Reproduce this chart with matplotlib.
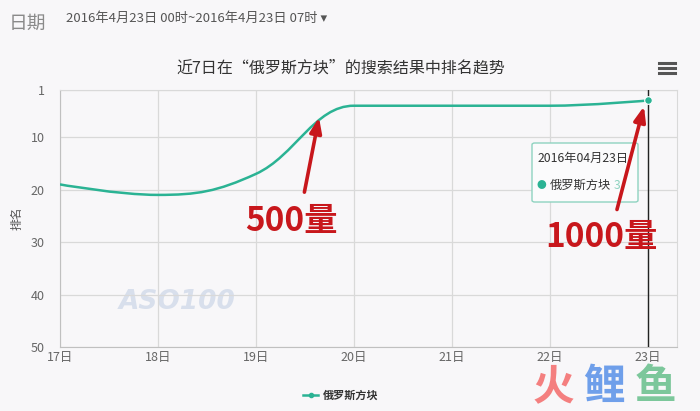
import matplotlib
matplotlib.use("Agg")
import matplotlib.pyplot as plt
from matplotlib.path import Path
from matplotlib.patches import PathPatch, FancyBboxPatch
from matplotlib.lines import Line2D

plt.rcParams['font.family'] = ['Noto Sans CJK SC', 'DejaVu Sans']

days = [17, 18, 19, 20, 21, 22, 23]
day_labels = ['17日', '18日', '19日', '20日', '21日', '22日', '23日']
ranks = [19, 21, 17, 4, 4, 4, 3]
y_ticks = [1, 10, 20, 30, 40, 50]
series_name = '俄罗斯方块'

LINE = '#2bb394'
RED = '#c8171c'
BG = '#f8f7f9'
GRID = '#d9d9d9'


def spline_path(xs, ys, smoothing=1.5):
    # highcharts-like spline control points
    denom = smoothing + 1
    n = len(xs)
    left = [None] * n
    right = [None] * n
    for i in range(n):
        x, y = xs[i], ys[i]
        if i == 0 or i == n - 1:
            left[i] = (x, y)
            right[i] = (x, y)
            continue
        px, py = xs[i - 1], ys[i - 1]
        nx, ny = xs[i + 1], ys[i + 1]
        lx = (smoothing * x + px) / denom
        ly = (smoothing * y + py) / denom
        rx = (smoothing * x + nx) / denom
        ry = (smoothing * y + ny) / denom
        corr = (ry - ly) * (rx - x) / (rx - lx) + y - ry
        ly += corr
        ry += corr
        if ly > max(py, y):
            ly = max(py, y)
            ry = 2 * y - ly
        elif ly < min(py, y):
            ly = min(py, y)
            ry = 2 * y - ly
        if ry > max(ny, y):
            ry = max(ny, y)
            ly = 2 * y - ry
        elif ry < min(ny, y):
            ry = min(ny, y)
            ly = 2 * y - ry
        left[i] = (lx, ly)
        right[i] = (rx, ry)
    verts = [(xs[0], ys[0])]
    codes = [Path.MOVETO]
    for i in range(1, n):
        verts += [right[i - 1], left[i], (xs[i], ys[i])]
        codes += [Path.CURVE4] * 3
    return Path(verts, codes)


fig = plt.figure(figsize=(7, 4.11), dpi=100, facecolor=BG)
ax = fig.add_axes([60 / 700, 64 / 411, 617 / 700, 257 / 411], facecolor=BG)
ft = fig.transFigure

ax.set_xlim(days[0], days[-1] + 0.3)
ax.set_ylim(50, 1)
ax.set_yticks(y_ticks)
ax.set_xticks(days)
ax.set_xticklabels(day_labels)
ax.tick_params(axis='both', length=0, labelsize=9, colors='#666666')
ax.tick_params(axis='y', pad=11)
ax.tick_params(axis='x', pad=3)
ax.grid(True, color=GRID, linewidth=0.9)
for s in ax.spines.values():
    s.set_color(GRID)
ax.spines['left'].set_color('#c0c0c0')
ax.spines['bottom'].set_color('#c0c0c0')
ax.set_ylabel('排名', fontsize=8.5, color='#555555', labelpad=5)

# smoothed series line
ax.add_patch(PathPatch(spline_path(days, ranks), facecolor='none',
                       edgecolor=LINE, linewidth=1.8, zorder=3))
# crosshair + hovered point
ax.axvline(days[-1], color='#222222', linewidth=1, zorder=4)
ax.plot(days[-1], ranks[-1], 'o', color=LINE, markersize=5.5,
        markeredgecolor='white', markeredgewidth=0.8, zorder=5)

# watermark
ax.text(18.2, 41.5, 'ASO100', fontsize=19, style='italic', fontweight='bold',
        color='#d8dfec', ha='center', va='center', family='DejaVu Sans', zorder=1)

# tooltip
tip = FancyBboxPatch((532 / 700, 1 - 202 / 411), 106 / 700, 59 / 411,
                     boxstyle='round,pad=0,rounding_size=0.004',
                     transform=ft, facecolor='#fbfbfc', clip_on=False,
                     edgecolor='#8fd3c0', linewidth=1, zorder=6)
ax.add_artist(tip)
ax.text(538 / 700, 1 - 158 / 411, '2016年04月23日', fontsize=8.8,
        color='#333333', va='center', transform=ft, zorder=7)
ax.text(541 / 700, 1 - 185 / 411, '●', fontsize=7, color=LINE,
        va='center', ha='center', transform=ft, zorder=7)
ax.text(550 / 700, 1 - 185 / 411, series_name, fontsize=8.8,
        color='#333333', va='center', transform=ft, zorder=7)
ax.text(614 / 700, 1 - 185 / 411, str(ranks[-1]), fontsize=8.8,
        color='#8fd3c0', va='center', transform=ft, zorder=7)

# red arrows and annotations
arrow = dict(arrowstyle='-|>,head_length=0.9,head_width=0.35',
             color=RED, linewidth=2.6)
ax.annotate('', xy=(19.65, 5.7), xytext=(19.49, 21.0),
            arrowprops=arrow, zorder=8)
ax.annotate('', xy=(22.97, 3.6), xytext=(22.68, 24.3),
            arrowprops=arrow, zorder=8)
ax.text(291 / 700, 1 - 221 / 411, '500量', fontsize=24, fontweight='bold',
        color=RED, ha='center', va='center', transform=ft, zorder=8)
ax.text(601 / 700, 1 - 237 / 411, '1000量', fontsize=24, fontweight='bold',
        color=RED, ha='center', va='center', transform=ft, zorder=8)

# title and header
fig.text(341 / 700, 1 - 68 / 411, '近7日在“俄罗斯方块”的搜索结果中排名趋势',
         fontsize=11.5, color='#333333', ha='center', va='center')
fig.text(9 / 700, 1 - 23 / 411, '日期', fontsize=13.5, color='#8a8a8a', va='center')
fig.text(66 / 700, 1 - 18 / 411, '2016年4月23日 00时~2016年4月23日 07时 ▾',
         fontsize=9.5, color='#555555', va='center')

# menu icon
for yy in (63, 68, 73):
    fig.add_artist(Line2D([659 / 700, 675 / 700], [1 - yy / 411] * 2,
                          color='#555555', linewidth=2.2))

# legend
fig.add_artist(Line2D([303 / 700, 318 / 700], [1 - 395 / 411] * 2,
                      color=LINE, linewidth=1.8))
fig.add_artist(Line2D([310.5 / 700], [1 - 395 / 411], marker='o', color=LINE,
                      markersize=3))
fig.text(323 / 700, 1 - 395 / 411, series_name, fontsize=8,
         fontweight='bold', color='#333333', va='center')

# corner logo
for ch, cx, col in (('火', 553, '#f47f7f'), ('鲤', 604, '#6f9fea'), ('鱼', 655, '#7cc79b')):
    fig.text(cx / 700, 1 - 387 / 411, ch, fontsize=30, fontweight='bold',
             color=col, ha='center', va='center', zorder=9)

fig.savefig('out.png', dpi=100, facecolor=BG)
